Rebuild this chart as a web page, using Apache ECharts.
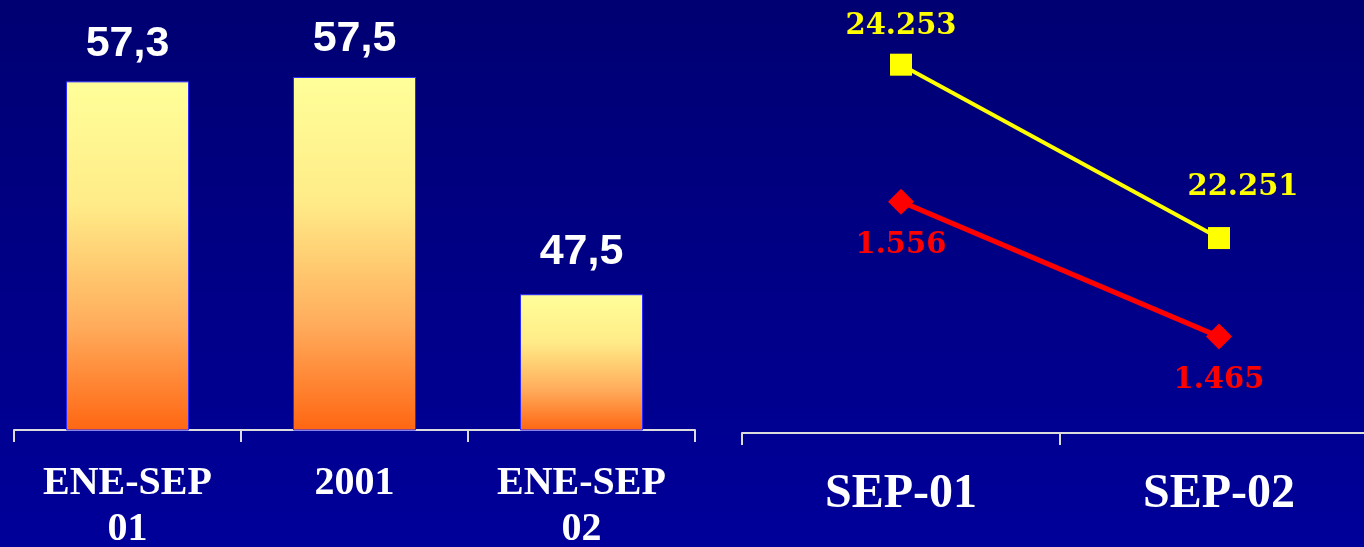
<!DOCTYPE html>
<html>
<head>
<meta charset="utf-8">
<script src="https://cdn.jsdelivr.net/npm/echarts@6/dist/echarts.min.js"></script>
<style>
html, body { margin: 0; padding: 0; }
#main { width: 1364px; height: 547px; }
</style>
</head>
<body>
<div id="main"></div>
<script>
// left: bars
var periodos = ['ENE-SEP\n01', '2001', 'ENE-SEP\n02'];
var valores = [57.3, 57.5, 47.5];
// right: two lines, each on its own scale
var meses = ['SEP-01', 'SEP-02'];
var serieAmarilla = [24253, 22251];
var serieRoja = [1556, 1465];

function miles(v) {
	return String(v).replace(/\B(?=(\d{3})+(?!\d))/g, '.');
}

window.onload = function() {
	var c = echarts.init(document.getElementById('main'));
	var serif = '"Liberation Serif", "Times New Roman", serif';
	var wide = '"DejaVu Serif", serif';
	var axisLine = { show: true, lineStyle: { color: '#dcdcdc', width: 2 } };
	var axisTick = { show: true, length: 12, lineStyle: { color: '#dcdcdc', width: 2 } };

	var e = {
		backgroundColor: new echarts.graphic.LinearGradient(0, 0, 0, 1, [
			{ offset: 0, color: '#000072' },
			{ offset: 1, color: '#00009a' }
		]),
		animation: false,
		grid: [
			{ left: 14, right: 669, top: 77, bottom: 117, outerBoundsMode: 'none', containLabel: false },
			{ left: 742, right: -14, top: 0, bottom: 114, outerBoundsMode: 'none', containLabel: false }
		],
		xAxis: [
			{
				type: 'category', gridIndex: 0, data: periodos,
				axisLine: axisLine, axisTick: axisTick,
				axisLabel: {
					color: '#fff', fontFamily: serif, fontWeight: 'bold',
					fontSize: 40, lineHeight: 46, margin: 31
				}
			},
			{
				type: 'category', gridIndex: 1, data: meses,
				axisLine: axisLine, axisTick: axisTick,
				axisLabel: {
					color: '#fff', fontFamily: serif, fontWeight: 'bold',
					fontSize: 48, lineHeight: 50, margin: 37
				}
			}
		],
		yAxis: [
			{ type: 'value', gridIndex: 0, min: 41.25, max: 57.5, show: false, splitLine: { show: false } },
			{ type: 'value', gridIndex: 1, min: 20000, max: 25000, show: false, splitLine: { show: false } },
			{ type: 'value', gridIndex: 1, min: 1400, max: 1692, show: false, splitLine: { show: false } }
		],
		series: [
			{
				type: 'bar', xAxisIndex: 0, yAxisIndex: 0,
				data: valores,
				barWidth: 123,
				itemStyle: {
					borderColor: '#2a2aff', borderWidth: 1,
					color: new echarts.graphic.LinearGradient(0, 0, 0, 1, [
						{ offset: 0, color: '#ffff99' },
						{ offset: 0.35, color: '#ffec88' },
						{ offset: 0.7, color: '#ffac5c' },
						{ offset: 1, color: '#ff6612' }
					])
				},
				label: {
					show: true, position: 'top', distance: 16,
					color: '#fff', fontSize: 43, fontWeight: 'bold',
					fontFamily: '"Liberation Sans", Arial, sans-serif',
					formatter: function(p) { return String(p.value).replace('.', ','); }
				},
				labelLayout: function(p) {
					return p.dataIndex === 2 ? { dy: -5 } : {};
				}
			},
			{
				type: 'line', xAxisIndex: 1, yAxisIndex: 1,
				data: serieAmarilla,
				symbol: 'rect', symbolSize: 22,
				lineStyle: { color: '#ffff00', width: 4 },
				itemStyle: { color: '#ffff00' },
				label: {
					show: true, position: 'top', distance: 13,
					color: '#ffff00', fontSize: 29, fontWeight: 'bold', fontFamily: wide,
					formatter: function(p) { return miles(p.value); }
				},
				labelLayout: function(p) {
					return p.dataIndex === 1 ? { dx: 24, dy: -12 } : {};
				}
			},
			{
				type: 'line', xAxisIndex: 1, yAxisIndex: 2,
				data: serieRoja,
				symbol: 'diamond', symbolSize: 26,
				lineStyle: { color: '#ff0000', width: 5 },
				itemStyle: { color: '#ff0000' },
				label: {
					show: true, position: 'bottom', distance: 16,
					color: '#ff0000', fontSize: 29, fontWeight: 'bold', fontFamily: wide,
					formatter: function(p) { return miles(p.value); }
				}
			}
		]
	};
	c.setOption(e);
};
</script>
</body>
</html>
